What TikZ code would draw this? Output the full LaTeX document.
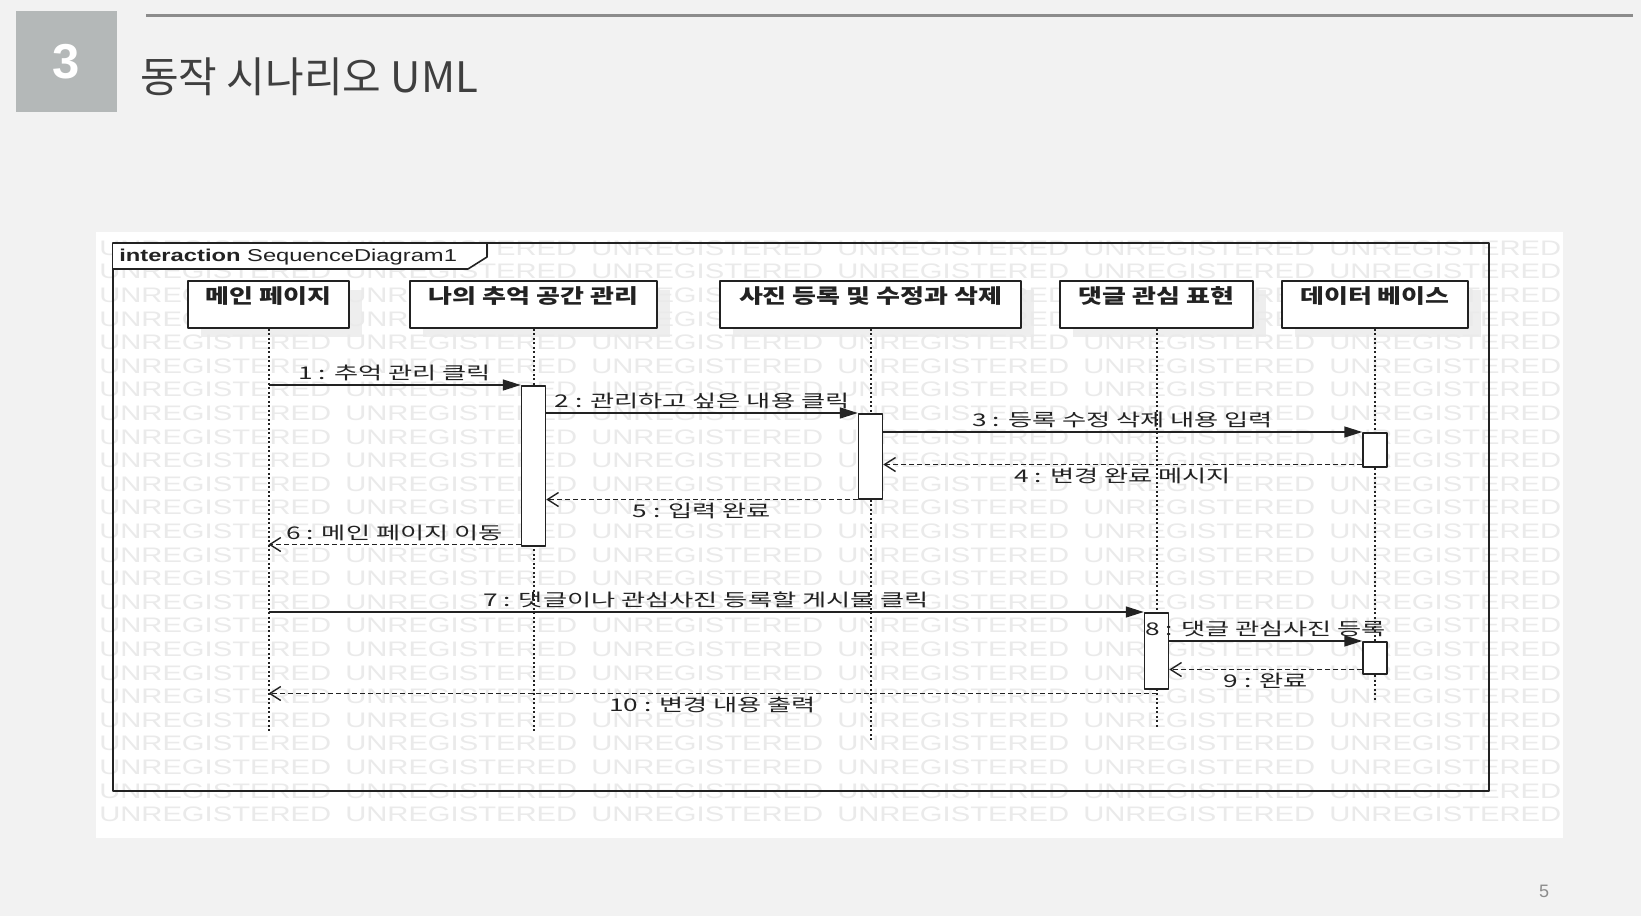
\documentclass[tikz,border=0pt]{standalone}
\usepackage{fontspec}
\setmainfont{Noto Sans CJK KR}
\newfontfamily\arialfont{Liberation Sans}
\usetikzlibrary{arrows.meta,positioning,calc}
\definecolor{slidebg}{HTML}{F2F2F2}
\definecolor{numbox}{HTML}{B4B8B8}
\definecolor{rulegray}{HTML}{8C8C8C}
\definecolor{titlegray}{HTML}{3F3F3F}
\definecolor{wmgray}{HTML}{EAEAEA}
\definecolor{shadegray}{HTML}{EEEEEE}
\definecolor{ink}{HTML}{222222}

\begin{document}
\begin{tikzpicture}[x=1pt, y=-1pt, line join=round,
  headbox/.style={draw=ink, line width=1.6pt, fill=white, minimum height=47pt, inner sep=0pt},
  headtxt/.style={font=\fontsize{20pt}{24pt}\selectfont\bfseries, xscale=1.3, yshift=8.5pt, inner sep=0pt, text=ink},
  act/.style={draw=ink, line width=1.5pt, fill=white, minimum width=24pt, inner sep=0pt, anchor=north},
  lifeline/.style={ink, line width=2pt, dash pattern=on 2pt off 2.5pt},
  call/.style={ink, line width=1.5pt, -{Triangle[length=18pt, width=11pt]}},
  reply/.style={ink, line width=1.4pt, dash pattern=on 5pt off 3pt, -{Straight Barb[length=11pt, width=14pt]}},
  msg/.style={font=\fontsize{17.5pt}{20pt}\selectfont, xscale=1.5, inner sep=0pt, text=ink},
  msgabove/.style={msg, midway, yshift=12pt},
  msgbelow/.style={msg, midway, yshift=-11pt},
  wmark/.style={anchor=west, inner sep=0pt, text=wmgray, font=\arialfont\fontsize{21pt}{24pt}\selectfont, xscale=1.39}]
\fill[slidebg] (0,0) rectangle (1641,916);
\useasboundingbox (0,0) rectangle (1641,916);

\node[fill=numbox, minimum width=101pt, minimum height=101pt, inner sep=0pt, text=white,
  font=\arialfont\bfseries\fontsize{49pt}{55pt}\selectfont] (secnum) at (66.5,61.5) {3};
\draw[rulegray, line width=3pt] (146,15.5) -- (1633,15.5);
\node[anchor=base west, inner sep=0pt, text=titlegray, font=\fontsize{42pt}{48pt}\selectfont] (title) at (140,92) {동작 시나리오 UML};
\node[text=rulegray, font=\arialfont\fontsize{18pt}{20pt}\selectfont] (pagenum) at (1544,891) {5};

\fill[white] (96,232) rectangle (1563,838);
\foreach \a/\b in {188/349, 410/657, 720/1021, 1060/1253, 1282/1468}
  \fill[shadegray] (\a+13,290) rectangle (\b+13,337);
\foreach \r in {0,...,24}
  \foreach \c in {0,...,5}
    \node[wmark] (wm-\r-\c) at ({99+246*\c}, {248+23.6*\r}) {UNREGISTERED};

\draw[ink, line width=2pt] (113,243) rectangle (1489,791);
\draw[ink, line width=1.6pt, fill=white] (113,243) -- (487,243) -- (487,257) -- (468,269) -- (113,269);
\node[anchor=west, inner sep=0pt, text=ink, font=\arialfont\fontsize{17.2pt}{20pt}\selectfont, xscale=1.38] (frametitle) at (119,257) {\textbf{interaction} SequenceDiagram1};

\node[headbox, minimum width=161pt, label={[headtxt]center:메인 페이지}] (mainpg) at (268.5,304.5) {};
\node[headbox, minimum width=247pt, label={[headtxt]center:나의 추억 공간 관리}] (memory) at (533.5,304.5) {};
\node[headbox, minimum width=301pt, label={[headtxt]center:사진 등록 및 수정과 삭제}] (photo) at (870.5,304.5) {};
\node[headbox, minimum width=193pt, label={[headtxt]center:댓글 관심 표현}] (comment) at (1156.5,304.5) {};
\node[headbox, minimum width=186pt, label={[headtxt]center:데이터 베이스}] (db) at (1375,304.5) {};

\coordinate (mainpg-end) at (mainpg |- 0,733);
\coordinate (memory-end) at (memory |- 0,733);
\coordinate (photo-end) at (photo |- 0,742);
\coordinate (comment-end) at (comment |- 0,727);
\coordinate (db-end) at (db |- 0,700);
\foreach \n in {mainpg, memory, photo, comment, db}
  \draw[lifeline] (\n.south) -- (\n-end);

\node[act, minimum height=160pt] (act-mem) at (memory |- 0,385) {};
\node[act, minimum height=85pt] (act-photo) at (photo |- 0,413) {};
\node[act, minimum height=34pt] (act-db1) at (db |- 0,432) {};
\node[act, minimum height=76pt] (act-cmt) at (comment |- 0,612) {};
\node[act, minimum height=32pt] (act-db2) at (db |- 0,641) {};

\draw[call] (mainpg |- act-mem.north) -- (act-mem.north west) node[msgabove] (m1) {1 : 추억 관리 클릭};
\draw[call] (act-mem.east |- act-photo.north) -- (act-photo.north west) node[msgabove] (m2) {2 : 관리하고 싶은 내용 클릭};
\draw[call] (act-photo.east |- act-db1.north) -- (act-db1.north west) node[msgabove] (m3) {3 : 등록 수정 삭제 내용 입력};
\draw[reply] ([yshift=3pt]act-db1.south west) coordinate (r4) -- (r4 -| act-photo.east) node[msgbelow] (m4) {4 : 변경 완료 메시지};
\draw[reply] (act-photo.south west) -- (act-mem.east |- act-photo.south) node[msgbelow] (m5) {5 : 입력 완료};
\draw[reply] ([yshift=2pt]act-mem.south west) coordinate (r6) -- (r6 -| mainpg) node[msgabove] (m6) {6 : 메인 페이지 이동};
\draw[call] (mainpg |- act-cmt.north) -- (act-cmt.north west) node[msgabove] (m7) {7 : 댓글이나 관심사진 등록할 게시물 클릭};
\draw[call] (act-cmt.east |- act-db2.north) -- (act-db2.north west) node[msgabove] (m8) {8 : 댓글 관심사진 등록};
\draw[reply] ([yshift=5pt]act-db2.south west) coordinate (r9) -- (r9 -| act-cmt.east) node[msgbelow] (m9) {9 : 완료};
\draw[reply] ([yshift=-4pt]act-cmt.south) coordinate (r10) -- (r10 -| mainpg) node[msgbelow] (m10) {10 : 변경 내용 출력};
\end{tikzpicture}
\end{document}
